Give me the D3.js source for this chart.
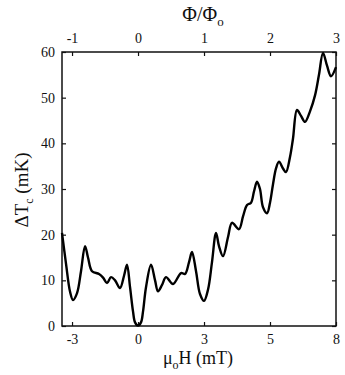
<!DOCTYPE html>
<html>
<head>
<meta charset="utf-8">
<script src="https://cdn.jsdelivr.net/npm/d3@7"></script>
<style>
  body { margin: 0; background: #fff; }
  svg text { font-family: "Liberation Serif", "DejaVu Serif", serif; fill: #111; }
</style>
</head>
<body>
<div id="chart"></div>
<script>
// flux (in units of flux quantum) and Tc shift in mK
var flux = [-1.152, -1.09, -1.03, -0.985, -0.924, -0.864, -0.803, -0.758, -0.697, -0.591,
	-0.53, -0.47, -0.409, -0.348, -0.273, -0.212, -0.167, -0.121, -0.076, -0.045,
	0, 0.045, 0.076, 0.121, 0.197, 0.258, 0.303, 0.364, 0.424, 0.53, 0.652,
	0.712, 0.773, 0.818, 0.879, 0.939, 1.0, 1.061, 1.121, 1.182, 1.227,
	1.288, 1.364, 1.424, 1.53, 1.591, 1.652, 1.712, 1.758, 1.803, 1.848,
	1.894, 1.955, 2.0, 2.045, 2.091, 2.136, 2.197, 2.242, 2.303, 2.348,
	2.409, 2.47, 2.53, 2.606, 2.682, 2.742, 2.803, 2.864, 2.924, 3.0];
var deltaTc = [20.4, 13.5, 7.5, 5.7, 7.2, 12, 17.5, 15, 12.0, 11.4,
	10.6, 9.4, 10.7, 10, 8.3, 11, 13.4, 8.5, 3.2, 0.8,
	0.1, 0.8, 3.2, 8.5, 13.4, 10, 7.6, 9, 10.7, 9.2, 11.6,
	11.4, 14, 16.2, 12, 7, 5.5, 8, 14, 20.4, 17.5,
	15.3, 19.5, 22.6, 21.2, 24, 26.5, 27, 29.5, 31.6, 30,
	26, 24.7, 27, 31, 34.5, 36, 34.5, 33.7, 37, 41,
	47.3, 46, 44.7, 47, 50.5, 55, 59.8, 57, 54.7, 56.7];

// axis ticks
var fluxTicks = [-1, 0, 1, 2, 3];
var fieldTickLabels = ["-3", "0", "3", "5", "8"];
var yTicks = [0, 10, 20, 30, 40, 50, 60];

var width = 345, height = 375;
var margin = {left: 62, right: 9, top: 52, bottom: 49};

var svg = d3.select("#chart")
	.append("svg")
	.attr("width", width)
	.attr("height", height);

var x = d3.scaleLinear()
	.domain([-1.152, 3])
	.range([margin.left, width - margin.right]);

var y = d3.scaleLinear()
	.domain([0, 60])
	.range([height - margin.bottom, margin.top]);

// frame
svg.append("rect")
	.attr("x", x.range()[0])
	.attr("y", y.range()[1])
	.attr("width", x.range()[1] - x.range()[0])
	.attr("height", y.range()[0] - y.range()[1])
	.attr("fill", "none")
	.attr("stroke", "#111")
	.attr("stroke-width", 1.5);

// top axis: flux quanta
var topAxis = svg.append("g")
	.attr("transform", "translate(0," + y(60) + ")")
	.call(d3.axisTop(x).tickValues(fluxTicks).tickSize(-4).tickPadding(9)
		.tickFormat(function(d) { return d; }));

// bottom axis: field in mT
var bottomAxis = svg.append("g")
	.attr("transform", "translate(0," + y(0) + ")")
	.call(d3.axisBottom(x).tickValues(fluxTicks).tickSize(-4).tickPadding(8)
		.tickFormat(function(d, i) { return fieldTickLabels[i]; }));

// left axis
var leftAxis = svg.append("g")
	.attr("transform", "translate(" + x.range()[0] + ",0)")
	.call(d3.axisLeft(y).tickValues(yTicks).tickSize(-4).tickPadding(7));

// right axis, ticks only
var rightAxis = svg.append("g")
	.attr("transform", "translate(" + x.range()[1] + ",0)")
	.call(d3.axisRight(y).tickValues(yTicks).tickSize(-4).tickFormat(""));

[topAxis, bottomAxis, leftAxis, rightAxis].forEach(function(g) {
	g.attr("font-family", null).attr("font-size", null);
	g.select(".domain").remove();
	g.selectAll(".tick line").attr("stroke", "#111").attr("stroke-width", 1.2);
	g.selectAll(".tick text")
		.attr("font-size", 14)
		.attr("fill", "#111");
});

// the data curve
var line = d3.line()
	.x(function(d, i) { return x(flux[i]); })
	.y(function(d, i) { return y(deltaTc[i]); })
	.curve(d3.curveCatmullRom.alpha(0.5));

svg.append("path")
	.datum(flux)
	.attr("d", line)
	.attr("fill", "none")
	.attr("stroke", "#000")
	.attr("stroke-width", 2.4)
	.attr("stroke-linejoin", "round");

// axis titles
var topTitle = svg.append("text")
	.attr("x", 203)
	.attr("y", 21)
	.attr("text-anchor", "middle")
	.attr("font-size", 20);
topTitle.append("tspan").text("\u03A6/\u03A6");
topTitle.append("tspan").attr("font-size", 13).attr("dy", 5).text("o");

var xTitle = svg.append("text")
	.attr("x", 198)
	.attr("y", 364)
	.attr("text-anchor", "middle")
	.attr("font-size", 18);
xTitle.append("tspan").text("\u03BC");
xTitle.append("tspan").attr("font-size", 12).attr("dy", 5).text("o");
xTitle.append("tspan").attr("dy", -5).text("H (mT)");

var yTitle = svg.append("text")
	.attr("transform", "translate(28,190) rotate(-90)")
	.attr("text-anchor", "middle")
	.attr("font-size", 19);
yTitle.append("tspan").text("\u0394T");
yTitle.append("tspan").attr("font-size", 12).attr("dy", 5).text("c");
yTitle.append("tspan").attr("dy", -5).text(" (mK)");
</script>
</body>
</html>
